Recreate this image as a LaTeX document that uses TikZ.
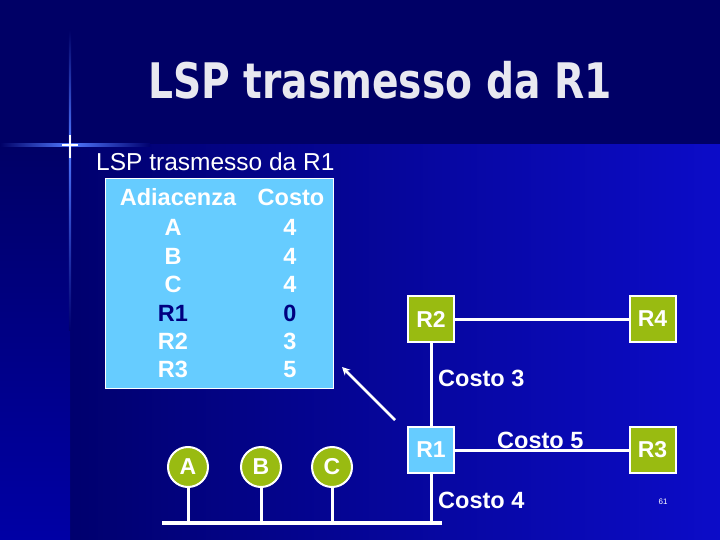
\documentclass[tikz,border=0pt]{standalone}
\usepackage{fontspec}
\setmainfont{Liberation Sans}
\newfontfamily\titlefont{DejaVu Sans}
\usetikzlibrary{arrows.meta}
\definecolor{bgtop}{RGB}{0,0,102}
\definecolor{bgleft}{RGB}{0,0,110}
\definecolor{bgright}{RGB}{12,12,200}
\definecolor{bgstripb}{RGB}{0,0,165}
\definecolor{glow}{RGB}{80,120,255}
\definecolor{tblue}{RGB}{102,204,255}
\definecolor{rgreen}{RGB}{153,187,17}
\definecolor{navytxt}{RGB}{0,0,128}
\definecolor{titlecol}{RGB}{232,232,240}
\tikzset{
  txt/.style={font=\bfseries\fontsize{23.5}{28}\selectfont, text=white, inner sep=0pt, anchor=base},
  router/.style={draw=white, line width=2pt, minimum size=46pt, inner sep=0pt, font=\bfseries\fontsize{23}{26}\selectfont, text=white},
  host/.style={circle, draw=white, line width=2pt, fill=rgreen, minimum size=40pt, inner sep=0pt, font=\bfseries\fontsize{23}{26}\selectfont, text=white},
  link/.style={draw=white, line width=3pt},
}
\begin{document}
\begin{tikzpicture}[x=1pt,y=-1pt]
\useasboundingbox (0,0) rectangle (720,540);
% background
\fill[bgtop] (0,0) rectangle (720,145);
\shade[left color=bgleft, right color=bgright] (70,145) rectangle (720,540);
\shade[top color=bgtop, bottom color=bgstripb] (0,145) rectangle (70,540);
% glow cross
\shade[top color=bgtop, bottom color=glow] (68.8,30) rectangle (71.2,145);
\shade[top color=glow, bottom color=bgleft] (68.8,145) rectangle (71.2,330);
\shade[left color=bgtop, right color=glow] (0,143.8) rectangle (70,146.2);
\shade[left color=glow, right color=bgleft] (70,143.8) rectangle (150,146.2);
\fill[white] (62,144.4) rectangle (78,145.6);
\fill[white] (69.4,135) rectangle (70.6,158);
% title
\node[inner sep=0pt, anchor=base, text=titlecol] (title) at (380,99)
  {\scalebox{0.8}[1]{\titlefont\bfseries\fontsize{49}{56}\selectfont LSP trasmesso da R1}};
\node[txt, anchor=base west, font=\mdseries\fontsize{24.5}{28}\selectfont] (sub) at (96,171) {LSP trasmesso da R1};
% table
\node[fill=tblue, draw=white, line width=1pt, minimum width=228pt, minimum height=209pt, inner sep=0pt] (tbl) at (219,283.5) {};
\node[txt] (h1) at (178,206) {Adiacenza};
\node[txt] (h2) at (291,206) {Costo};
\node[txt] (ra) at (173,236) {A};   \node[txt] (ca) at (290,236) {4};
\node[txt] (rb) at (173,264) {B};   \node[txt] (cb) at (290,264) {4};
\node[txt] (rc) at (173,292) {C};   \node[txt] (cc) at (290,292) {4};
\node[txt, text=navytxt] (rr1) at (173,321) {R1}; \node[txt, text=navytxt] (cr1) at (290,321) {0};
\node[txt] (rr2) at (173,349) {R2};  \node[txt] (cr2) at (290,349) {3};
\node[txt] (rr3) at (173,377) {R3};  \node[txt] (cr3) at (290,377) {5};
% routers
\node[router, fill=rgreen] (R2) at (431,319) {R2};
\node[router, fill=rgreen] (R4) at (652.5,319) {R4};
\node[router, fill=tblue] (R1) at (431,450) {R1};
\node[router, fill=rgreen] (R3) at (652.5,450) {R3};
% hosts
\node[host] (A) at (188,467) {A};
\node[host] (B) at (261,467) {B};
\node[host] (C) at (332,467) {C};
% bus
\coordinate (busL) at (162,523);
\coordinate (busR) at (442,523);
\draw[white, line width=4pt] (busL) -- (busR);
\draw[link] (A.south) -- (A |- busL);
\draw[link] (B.south) -- (B |- busL);
\draw[link] (C.south) -- (C |- busL);
\draw[link] (R1.south) -- (R1 |- busL);
% links
\draw[link] (R2) -- (R4);
\draw[link] (R2) -- (R1);
\draw[link] (R1) -- (R3);
% arrow
\coordinate (arrS) at (395,420);
\coordinate (arrE) at (342,367);
\draw[white, line width=2.5pt, -{Stealth[length=8pt,width=8pt]}] (arrS) -- (arrE);
% labels
\node[txt, anchor=base west] (c3) at (438,386) {Costo 3};
\node[txt, anchor=base west] (c5) at (497,448) {Costo 5};
\node[txt, anchor=base west] (c4) at (438,508) {Costo 4};
\node[inner sep=0pt, text=white, font=\fontsize{8}{9}\selectfont] (pg) at (663,502) {61};
\end{tikzpicture}
\end{document}
